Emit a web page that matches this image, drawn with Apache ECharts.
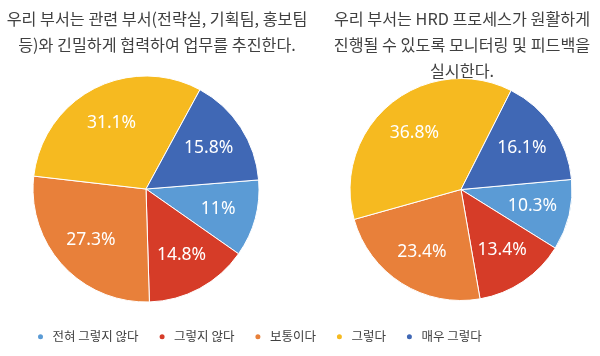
<!DOCTYPE html>
<html>
<head>
<meta charset="utf-8">
<script src="https://cdn.jsdelivr.net/npm/echarts@6/dist/echarts.min.js"></script>
<style>
html,body{margin:0;padding:0;background:#fff;}
#chart{width:600px;height:356px;}
</style>
</head>
<body>
<div id="chart"></div>
<script>
const categories = ['전혀 그렇지 않다', '그렇지 않다', '보통이다', '그렇다', '매우 그렇다'];
const leftValues = [11, 14.8, 27.3, 31.1, 15.8];
const rightValues = [10.3, 13.4, 23.4, 36.8, 16.1];
const leftTitle = '우리 부서는 관련 부서(전략실, 기획팀, 홍보팀\n등)와 긴밀하게 협력하여 업무를 추진한다.';
const rightTitle = '우리 부서는 HRD 프로세스가 원활하게\n진행될 수 있도록 모니터링 및 피드백을\n실시한다.';
const colors = ['#5B9BD5', '#D63C28', '#E8803A', '#F6BA20', '#4068B5'];

const font = '"Noto Sans CJK KR", "Noto Sans", sans-serif';

function toData(vals) {
  return vals.map((v, i) => ({ name: categories[i], value: v }));
}

function pieSeries(vals, center, r, startAngle) {
  return [
    {
      type: 'pie',
      center: center,
      radius: [0, r],
      startAngle: startAngle,
      clockwise: true,
      avoidLabelOverlap: false,
      silent: true,
      label: { show: false },
      labelLine: { show: false },
      itemStyle: { borderColor: '#ffffff', borderWidth: 1 },
      data: toData(vals)
    },
    {
      type: 'pie',
      center: center,
      radius: [r * 0.27, r],
      startAngle: startAngle,
      clockwise: true,
      avoidLabelOverlap: false,
      silent: true,
      legendHoverLink: false,
      itemStyle: { color: 'rgba(0,0,0,0)', borderWidth: 0 },
      label: {
        show: true,
        position: 'inside',
        formatter: '{c}%',
        color: '#ffffff',
        fontSize: 17.5,
        fontFamily: '"Noto Sans", sans-serif'
      },
      labelLine: { show: false },
      data: toData(vals)
    }
  ];
}

const chart = echarts.init(document.getElementById('chart'), null, { renderer: 'canvas' });
chart.setOption({
  animation: false,
  color: colors,
  title: [
    {
      text: leftTitle,
      left: 152, top: 1, textAlign: 'center',
      textStyle: { fontFamily: font, fontSize: 16.2, fontWeight: 'normal', color: '#404040', lineHeight: 26 }
    },
    {
      text: rightTitle,
      left: 457, top: 1, textAlign: 'center',
      textStyle: { fontFamily: font, fontSize: 16.2, fontWeight: 'normal', color: '#404040', lineHeight: 26 }
    }
  ],
  legend: {
    data: categories,
    bottom: 8,
    left: 31,
    icon: 'circle',
    itemWidth: 14,
    itemHeight: 7,
    itemGap: 19,
    textStyle: { fontFamily: font, fontSize: 12.5, color: '#404040' }
  },
  series: [
    ...pieSeries(leftValues, [146, 189], 113, 4.6),
    ...pieSeries(rightValues, [461, 189.5], 111, 5.2)
  ]
});
</script>
</body>
</html>
